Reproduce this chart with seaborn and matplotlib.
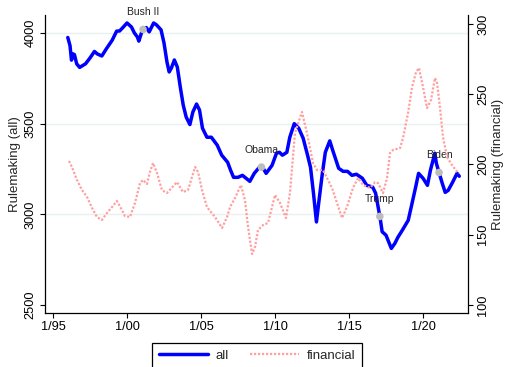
import numpy as np
import pandas as pd
import matplotlib
matplotlib.use("Agg")
import matplotlib.pyplot as plt
import seaborn as sns

# Monthly rulemaking counts (decimal-year dates)
all_dates = [1996.0, 1996.15, 1996.25, 1996.35, 1996.45, 1996.6, 1996.8, 1997.2, 1997.5, 1997.8,
             1998.0, 1998.3, 1998.6, 1999.0, 1999.3, 1999.5, 1999.7, 2000.0, 2000.3, 2000.5,
             2000.7, 2000.8, 2001.0, 2001.1, 2001.3, 2001.5, 2001.8, 2002.0, 2002.3, 2002.5,
             2002.7, 2002.85, 2003.0, 2003.2, 2003.4, 2003.6, 2003.8, 2004.0, 2004.25, 2004.45,
             2004.7, 2004.9, 2005.1, 2005.4, 2005.7, 2006.1, 2006.4, 2006.8, 2007.0, 2007.2,
             2007.5, 2007.8, 2008.3, 2008.6, 2009.0, 2009.2, 2009.4, 2009.8, 2010.1, 2010.3,
             2010.5, 2010.8, 2011.0, 2011.3, 2011.6, 2011.9, 2012.2, 2012.4, 2012.6, 2012.8,
             2012.95, 2013.2, 2013.4, 2013.7, 2013.9, 2014.3, 2014.6, 2014.9, 2015.2, 2015.5,
             2015.9, 2016.2, 2016.6, 2016.8, 2017.1, 2017.24, 2017.5, 2017.86, 2018.1, 2018.3,
             2018.6, 2019.0, 2019.2, 2019.5, 2019.7, 2020.0, 2020.3, 2020.5, 2020.8, 2020.9,
             2021.1, 2021.3, 2021.5, 2021.7, 2022.0, 2022.3, 2022.45]
all_values = [3975, 3930, 3850, 3885, 3880, 3830, 3810, 3830, 3862, 3898,
              3884, 3873, 3912, 3960, 4010, 4011, 4028, 4055, 4033, 4000,
              3978, 3955, 4006, 4022, 4030, 4006, 4055, 4044, 4017, 3945,
              3840, 3785, 3807, 3851, 3812, 3702, 3602, 3536, 3495, 3564,
              3608, 3575, 3475, 3425, 3425, 3381, 3326, 3287, 3243, 3204,
              3204, 3215, 3182, 3226, 3265, 3254, 3226, 3270, 3337, 3342,
              3326, 3342, 3425, 3500, 3475, 3420, 3326, 3259, 3116, 2958,
              3061, 3226, 3342, 3405, 3353, 3254, 3237, 3237, 3215, 3221,
              3199, 3160, 3150, 3116, 2981, 2904, 2885, 2812, 2840, 2873,
              2912, 2967, 3039, 3149, 3226, 3199, 3160, 3243, 3337, 3282,
              3226, 3171, 3121, 3132, 3177, 3226, 3210]

fin_dates = [1996.08, 1996.28, 1996.62, 1996.96, 1997.3, 1997.64, 1997.97, 1998.3, 1998.65, 1998.99,
             1999.32, 1999.66, 1999.86, 2000.2, 2000.54, 2000.88, 2001.08, 2001.35, 2001.55, 2001.76,
             2002.03, 2002.36, 2002.7, 2003.38, 2003.78, 2004.12, 2004.6, 2004.8, 2005.07, 2005.4,
             2005.95, 2006.42, 2006.76, 2006.96, 2007.3, 2007.7, 2007.97, 2008.18, 2008.45, 2008.65,
             2008.85, 2009.19, 2009.53, 2010.0, 2010.34, 2010.74, 2011.01, 2011.35, 2011.82, 2012.16,
             2012.57, 2012.84, 2013.24, 2013.85, 2014.19, 2014.53, 2014.86, 2015.27, 2015.61, 2015.95,
             2016.42, 2016.76, 2016.96, 2017.3, 2017.57, 2017.77, 2017.97, 2018.45, 2018.65, 2018.99,
             2019.26, 2019.53, 2019.73, 2020.0, 2020.27, 2020.54, 2020.81, 2020.95, 2021.15, 2021.35,
             2021.62, 2021.96, 2022.4]
fin_values = [202.5, 198.2, 189.0, 181.8, 176.9, 169.0, 162.6, 160.5, 165.5, 169.7,
              174.0, 167.6, 163.3, 162.6, 172.6, 186.8, 189.0, 186.1, 194.7, 201.0,
              193.9, 181.8, 179.7, 187.5, 180.4, 181.8, 198.2, 194.7, 181.8, 169.7,
              162.6, 154.8, 162.6, 169.7, 176.2, 185.4, 174.7, 155.5, 136.3, 141.3,
              153.4, 156.9, 158.4, 178.3, 172.6, 161.9, 179.7, 222.4, 237.4, 222.4,
              201.0, 196.1, 196.1, 183.3, 172.6, 161.9, 169.7, 183.3, 190.4, 185.4,
              183.3, 187.5, 186.8, 179.7, 190.4, 208.2, 210.3, 211.7, 218.9, 236.6,
              255.1, 265.8, 268.7, 255.1, 240.2, 245.9, 261.6, 258.0, 240.2, 219.6,
              205.3, 199.6, 193.5]

# First full month of each administration
admin_names = ["Bush II", "Obama", "Trump", "Biden"]
admin_starts = [2001 + 1 / 12, 2009 + 1 / 12, 2017 + 1 / 12, 2021 + 1 / 12]

tick_years = [1995, 2000, 2005, 2010, 2015, 2020]
tick_labels = ["1/95", "1/00", "1/05", "1/10", "1/15", "1/20"]
left_ticks = [2500, 3000, 3500, 4000]
right_ticks = [100, 150, 200, 250, 300]

sns.set_theme(style="ticks")
plt.rcParams["font.family"] = ["Liberation Sans", "DejaVu Sans"]
plt.rcParams["axes.edgecolor"] = "black"

fig = plt.figure(figsize=(5.05, 3.67), dpi=100)
ax = fig.add_axes([45 / 505, 1 - 313 / 367, 423 / 505, 298 / 367])
ax2 = ax.twinx()

df_all = pd.DataFrame({"date": all_dates, "value": all_values})
df_fin = pd.DataFrame({"date": fin_dates, "value": fin_values})

for v in left_ticks[1:]:
    ax.axhline(v, color="#e8f0f2", lw=1.0, zorder=0)

sns.lineplot(data=df_all, x="date", y="value", ax=ax, color="#0000ff", lw=2.5,
             legend=False, zorder=3)
sns.lineplot(data=df_fin, x="date", y="value", ax=ax2, color="#ffa0a0", lw=1.6,
             linestyle=(0, (1, 0.8)), legend=False)

# Administration markers sitting on the "all" series
marker_y = np.interp(admin_starts, all_dates, all_values)
ax.scatter(admin_starts, marker_y, s=30, color="#bdbdbd", zorder=5, edgecolors="none")
for name, x, y in zip(admin_names, admin_starts, marker_y):
    ax.annotate(name, (x, y), xytext=(0, 12.5), textcoords="offset points",
                ha="center", va="center", fontsize=7.5, color="#222222",
                annotation_clip=False, zorder=6)

ax.set_xlim(1994.46, 2023.04)
ax.set_ylim(2456, 4099)
ax2.set_ylim(94.3, 306.4)

ax.set_xticks(tick_years, tick_labels)
ax.set_yticks(left_ticks)
ax2.set_yticks(right_ticks)
ax.set_xlabel("")
ax2.set_xlabel("")

ax.tick_params(axis="x", length=3.6, width=0.8, pad=2.5, labelsize=9.2, colors="black")
ax.tick_params(axis="y", length=3.6, width=0.8, pad=2.5, labelsize=9.2, labelrotation=90,
               colors="black")
ax2.tick_params(axis="y", length=3.6, width=0.8, pad=3, labelsize=9.2, labelrotation=90,
                colors="black")
for lab in ax.get_yticklabels():
    lab.set_va("center")
for lab in ax2.get_yticklabels():
    lab.set_va("center")

ax.set_ylabel("Rulemaking (all)", fontsize=9.5, va="center")
ax2.set_ylabel("Rulemaking (financial)", fontsize=9.5, va="center", rotation=90)
ax.yaxis.set_label_coords(-30 / 423, 0.5)
ax2.yaxis.set_label_coords(1 + 30 / 423, 0.5)

for a in (ax, ax2):
    a.spines["top"].set_visible(False)
ax.spines["right"].set_visible(False)
ax2.spines["left"].set_visible(False)
ax2.spines["bottom"].set_visible(False)
for s in ("left", "bottom"):
    ax.spines[s].set_linewidth(0.9)
ax2.spines["right"].set_linewidth(0.9)

handles = [ax.get_lines()[-1], ax2.get_lines()[-1]]
leg = fig.legend(handles, ["all", "financial"], loc="upper center",
                 bbox_to_anchor=(257 / 505, 1 - 343 / 367), ncol=2, frameon=True,
                 fancybox=False, edgecolor="black", framealpha=1, fontsize=9.5,
                 handlelength=3.7, handletextpad=0.6, columnspacing=1.6, borderpad=0.5,
                 borderaxespad=0)
leg.get_frame().set_linewidth(0.9)

fig.savefig("out.png", dpi=100)
